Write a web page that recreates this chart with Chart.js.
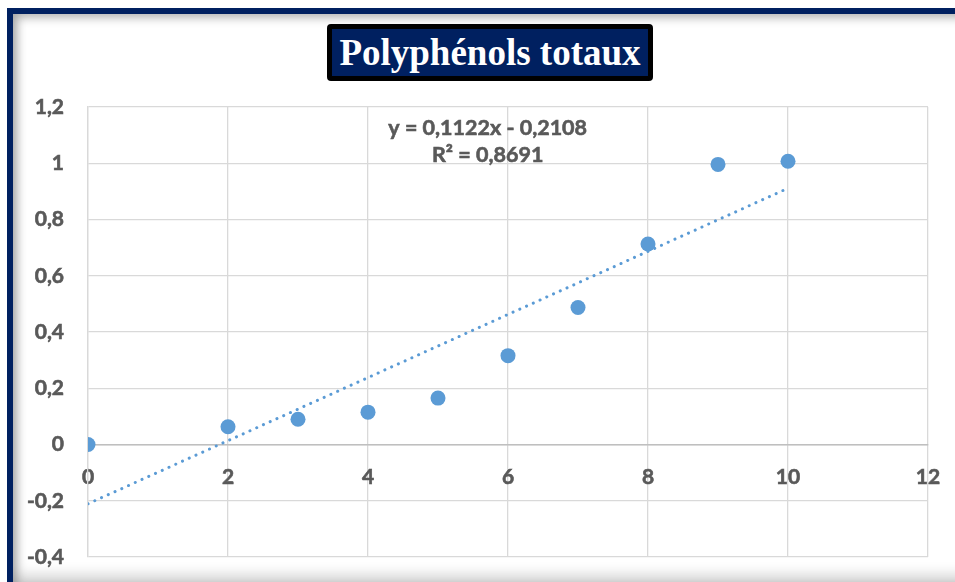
<!DOCTYPE html>
<html>
<head>
<meta charset="utf-8">
<script src="https://cdn.jsdelivr.net/npm/chart.js@4/dist/chart.umd.min.js"></script>
<style>
html, body { margin: 0; padding: 0; width: 955px; height: 582px; overflow: hidden; background: #fff; }
.cadre {
  position: absolute; left: 7px; top: 8px; width: 1000px; height: 569px;
  border: 6px solid #002060; background: #fff;
  box-shadow: inset 4px 4px 10px rgba(0,0,0,0.28), inset 0 -8px 14px rgba(0,0,0,0.18);
}
#graph { position: absolute; left: 0; top: 0; }
.titre {
  position: absolute; left: 327px; top: 24px; width: 316px; height: 47px;
  border: 5px solid #000; border-radius: 4px; background: #002060; color: #fff;
  font: bold 37px "Liberation Serif", "Times New Roman", serif;
  text-align: center; line-height: 47px;
}
</style>
</head>
<body>
<div class="cadre"></div>
<canvas id="graph" width="955" height="582"></canvas>
<div class="titre">Polyphénols totaux</div>
<script>
// valeurs
var xValeurs = [0, 2, 3, 4, 5, 6, 7, 8, 9, 10];
var yValeurs = [0, 0.063, 0.09, 0.115, 0.165, 0.316, 0.487, 0.713, 0.996, 1.007];

// courbe de tendance (extrémités)
var tendanceX = [0, 10];
var tendanceY = [-0.2108, 0.9112];
var equation = ['y = 0,1122x - 0,2108', 'R² = 0,8691'];

// graduations
var xTicks = [0, 2, 4, 6, 8, 10, 12];
var xLabels = ['0', '2', '4', '6', '8', '10', '12'];
var yTicks = [-0.4, -0.2, 0, 0.2, 0.4, 0.6, 0.8, 1, 1.2];
var yLabels = ['-0,4', '-0,2', '0', '0,2', '0,4', '0,6', '0,8', '1', '1,2'];

var points = [];
for (var i = 0; i < xValeurs.length; i++) {
  points.push({ x: xValeurs[i], y: yValeurs[i] });
}
var tendance = [];
for (var i = 0; i < tendanceX.length; i++) {
  tendance.push({ x: tendanceX[i], y: tendanceY[i] });
}

var policeTicks = { family: 'Lato, "Open Sans", sans-serif', size: 21, weight: 'bold' };

var equationPlugin = {
  id: 'equation',
  afterDatasetsDraw: function(chart) {
    var ctx = chart.ctx;
    var px = chart.scales.x.getPixelForValue(5.71);
    var py = chart.scales.y.getPixelForValue(1.125);
    ctx.save();
    ctx.font = 'bold 21.5px Lato, "Open Sans", sans-serif';
    ctx.fillStyle = '#595959';
    ctx.strokeStyle = '#595959';
    ctx.lineWidth = 0.6;
    ctx.textAlign = 'center';
    ctx.textBaseline = 'middle';
    for (var i = 0; i < equation.length; i++) {
      ctx.strokeText(equation[i], px, py + i * 27);
      ctx.fillText(equation[i], px, py + i * 27);
    }
    ctx.restore();
  }
};

var ctx = document.getElementById('graph');
var graph = new Chart(ctx, {
  type: 'scatter',
  data: {
    datasets: [{
      label: 'Polyphénols totaux',
      data: points,
      backgroundColor: '#5B9BD5',
      borderColor: '#5B9BD5',
      borderWidth: 0,
      pointRadius: 7.5,
      pointHoverRadius: 7.5
    },
    {
      label: 'Tendance',
      data: tendance,
      showLine: true,
      borderColor: '#5B9BD5',
      borderWidth: 3,
      borderDash: [0.1, 7.3],
      borderCapStyle: 'round',
      pointRadius: 0,
      fill: false
    }]
  },
  options: {
    responsive: false,
    animation: false,
    layout: { padding: { left: 0, top: 107, right: 27, bottom: 25 } },
    plugins: {
      legend: { display: false },
      tooltip: { enabled: false }
    },
    scales: {
      x: {
        type: 'linear',
        min: 0, max: 12,
        position: { y: 0 },
        afterBuildTicks: function(scale) {
          scale.ticks = xTicks.map(function(v){ return { value: v }; });
        },
        afterFit: function(scale) { scale.paddingLeft = 0; scale.paddingRight = 0; },
        ticks: {
          padding: 20,
          color: '#595959',
          textStrokeColor: '#595959',
          textStrokeWidth: 0.6,
          font: policeTicks,
          maxRotation: 0,
          callback: function(v, i) { return xLabels[i]; }
        },
        grid: { color: '#d9d9d9', lineWidth: 1.3, drawTicks: false },
        border: { display: true, color: '#bfbfbf', width: 1.5 }
      },
      y: {
        type: 'linear',
        min: -0.4, max: 1.2,
        afterBuildTicks: function(scale) {
          scale.ticks = yTicks.map(function(v){ return { value: v }; });
        },
        afterFit: function(scale) {
          scale.width = 88;
          scale.paddingTop = 0;
          scale.paddingBottom = 0;
        },
        ticks: {
          padding: 24,
          color: '#595959',
          textStrokeColor: '#595959',
          textStrokeWidth: 0.6,
          font: policeTicks,
          callback: function(v, i) { return yLabels[i]; }
        },
        grid: { color: '#d9d9d9', lineWidth: 1.3, drawTicks: false },
        border: { display: true, color: '#d9d9d9', width: 1.3 }
      }
    }
  },
  plugins: [equationPlugin]
});
</script>
</body>
</html>
